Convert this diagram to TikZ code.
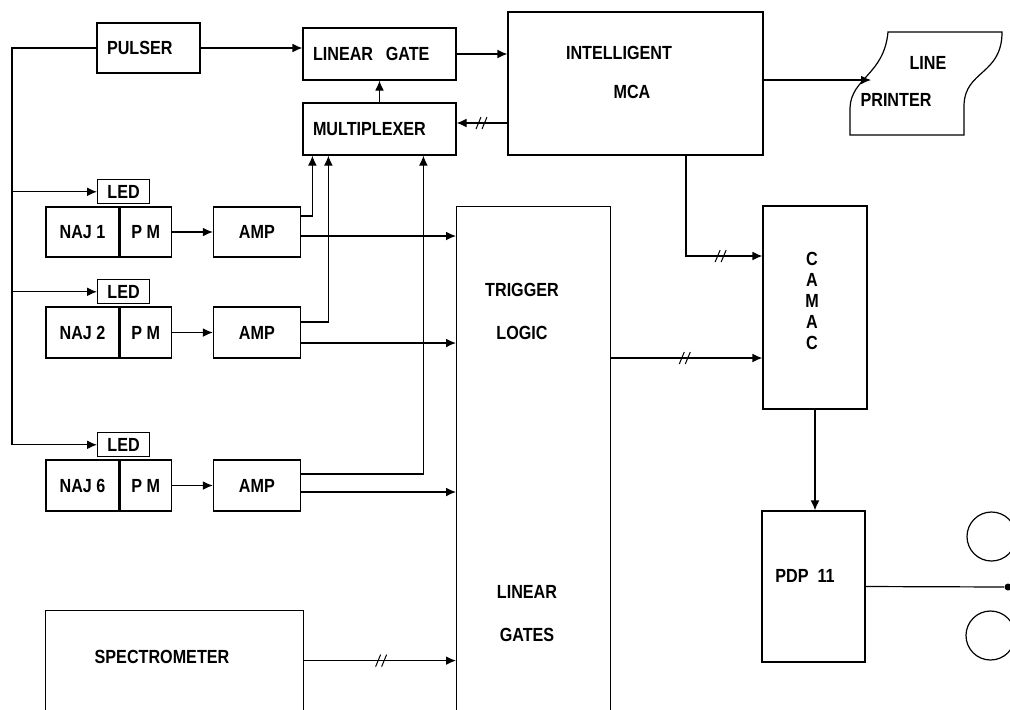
\documentclass[tikz,border=0pt]{standalone}
\usepackage{fontspec}
\usepackage{tikz}
\usetikzlibrary{positioning,arrows.meta}
\newfontfamily\diagfont{Liberation Sans}[FakeStretch=0.85]

\tikzset{
    slash/.pic={
        \draw[-, line width=0.5pt] (-6,6) -- (-1,-6) (0,6) -- (5,-6);
    }
}

\begin{document}
\begin{tikzpicture}[
    x=0.5pt, y=-0.5pt,
    line width=0.6pt,
    font=\diagfont\bfseries\fontsize{9.5}{10.5}\selectfont,
    box/.style={
        draw,
        inner sep=0pt,
        align=center
    },
    lbox/.style={
        align=left,
        inner xsep=5pt,
        text width=#1
    },
    arrow/.style={
        -{Latex[length=5pt,width=4.4pt]}
    }
]
\useasboundingbox (0,0) rectangle (1010,709);
\clip (0,0) rectangle (1010,709);

% Top row
\node (pulser) [box, lbox=41.5pt, minimum height=25pt] at (148.5,48) {PULSER};
\node (lgate)  [box, lbox=66.5pt, minimum height=26pt] at (379.5,54) {LINEAR\ \ GATE};
\node (mux)    [box, lbox=66.5pt, minimum height=26pt] at (379.5,129) {MULTIPLEXER};
\node (mca)    [box, minimum width=127.5pt, minimum height=71.5pt] at (635.5,83.5) {};
\node at (619,53) {INTELLIGENT};
\node at (632,92) {MCA};

% Line printer
\draw (888,32) -- (1002,32) .. controls (1002,75) and (965,70) .. (964,105) -- (964,135)
    -- (850,135) -- (850,108) .. controls (851,78) and (884,75) .. (888,32) -- cycle;
\coordinate (prn) at (871,80);
\node at (928,63) {LINE};
\node at (896,100) {PRINTER};

% Detectors
\node (naj1) [box, minimum width=36.5pt, minimum height=25pt] at (82.5,232) {NAJ 1};
\node (pm1)  [box, minimum width=25.5pt, minimum height=25pt, right=0pt of naj1] {P M};
\node (amp1) [box, minimum width=43.5pt, minimum height=25pt, right=20.5pt of pm1] {AMP};
\node (led1) [box, minimum width=26pt, minimum height=12pt, above=1pt of pm1.north west, xshift=2pt] {LED};

\node (naj2) [box, minimum width=36.5pt, minimum height=25.5pt] at (82.5,332.5) {NAJ 2};
\node (pm2)  [box, minimum width=25.5pt, minimum height=25.5pt, right=0pt of naj2] {P M};
\node (amp2) [box, minimum width=43.5pt, minimum height=25.5pt, right=20.5pt of pm2] {AMP};
\node (led2) [box, minimum width=26pt, minimum height=12pt, above=1pt of pm2.north west, xshift=2pt] {LED};

\node (naj6) [box, minimum width=36.5pt, minimum height=25.5pt] at (82.5,485.5) {NAJ 6};
\node (pm6)  [box, minimum width=25.5pt, minimum height=25.5pt, right=0pt of naj6] {P M};
\node (amp6) [box, minimum width=43.5pt, minimum height=25.5pt, right=20.5pt of pm6] {AMP};
\node (led6) [box, minimum width=26pt, minimum height=12pt, above=1pt of pm6.north west, xshift=2pt] {LED};

% Trigger logic / linear gates, spectrometer
\node (trig) [box, anchor=north west, minimum width=77pt, minimum height=277pt] at (456,206) {};
\node at (522,290) {TRIGGER};
\node at (522,333) {LOGIC};
\node at (527,592) {LINEAR};
\node at (527,635) {GATES};

\node (spec) [box, anchor=north west, minimum width=129pt, minimum height=75pt] at (45,610) {};
\node at (162,657) {SPECTROMETER};

% Computer side
\node (camac) [box, minimum width=52pt, minimum height=101.5pt] at (815,307.5) {};
\node [align=center] at (812,301) {C\\A\\M\\A\\C};
\node (pdp)   [box, minimum width=51.5pt, minimum height=75.5pt] at (813.5,586.5) {};
\node at (805,576) {PDP\ \ 11};
\node (tape)  [circle, fill, inner sep=0pt, minimum size=3.5pt] at (1008,587) {};
\node (reel1) [circle, draw, inner sep=0pt, minimum size=24.5pt] at (991.5,536.5) {};
\node (reel2) [circle, draw, inner sep=0pt, minimum size=24.5pt] at (990.5,635.5) {};

% Coordinates
\coordinate (feed) at (12,0);
\coordinate (a1up) at ([yshift=8pt]amp1.east);
\coordinate (a1dn) at ([yshift=-2pt]amp1.east);
\coordinate (a2up) at ([yshift=5.25pt]amp2.east);
\coordinate (a2dn) at ([yshift=-5.25pt]amp2.east);
\coordinate (a6up) at ([yshift=5.75pt]amp6.east);
\coordinate (a6dn) at ([yshift=-3.25pt]amp6.east);
\coordinate (m2) at ([yshift=3pt]mux.east);
\coordinate (c0) at ([xshift=25.25pt]mca.south);
\coordinate (c1) at ([yshift=25.75pt]camac.west);
\coordinate (c2) at ([yshift=-25.25pt]camac.west);
\coordinate (s1) at ([yshift=12.5pt]spec.east);

% Arrows
\draw[arrow] (pulser.west) -| (feed |- led6.west) -- (led6.west);
\draw[arrow] (feed |- led1.west) -- (led1.west);
\draw[arrow] (feed |- led2.west) -- (led2.west);
\draw[arrow] (pulser.east) -- (pulser.east -| lgate.west);
\draw[arrow] (mux.north) -- (lgate.south);
\draw[arrow] (lgate.east) -- (lgate.east -| mca.west);
\draw[arrow] (m2 -| mca.west) -- pic[pos=0.5]{slash} (m2);
\draw[arrow] (mca.east |- prn) -- (prn);

\draw[arrow] (pm1) -- (amp1);
\draw[arrow] (pm2) -- (amp2);
\draw[arrow] (pm6) -- (amp6);
\draw[arrow] (a1up) -| ([xshift=5pt]mux.south west);
\draw[arrow] (a2up) -| ([xshift=13pt]mux.south west);
\draw[arrow] (a6up) -| ([xshift=60.5pt]mux.south west);
\draw[arrow] (a1dn) -- (a1dn -| trig.west);
\draw[arrow] (a2dn) -- (a2dn -| trig.west);
\draw[arrow] (a6dn) -- (a6dn -| trig.west);
\draw[arrow] (s1) -- pic[pos=0.51]{slash} (s1 -| trig.west);

\draw[arrow] (c0) |- pic[pos=0.73]{slash} (c1);
\draw[arrow] (c2 -| trig.east) -- pic[pos=0.49]{slash} (c2);
\draw[arrow] (camac.south) -- (camac.south |- pdp.north);
\draw (pdp.east) -- (tape);

\end{tikzpicture}
\end{document}
